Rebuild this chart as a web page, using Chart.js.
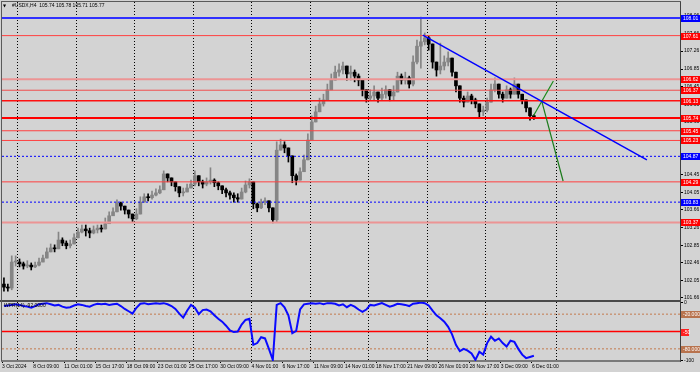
<!DOCTYPE html>
<html>
<head>
<meta charset="utf-8">
<script src="https://cdn.jsdelivr.net/npm/chart.js@4.4.1/dist/chart.umd.min.js"></script>
<style>
  html, body { margin: 0; padding: 0; background: #d3d3d3; }
  #wrap { position: relative; width: 700px; height: 372px; overflow: hidden; }
  canvas { position: absolute; left: 0; }
  #main { top: 0; }
  #ind { top: 300px; }
</style>
</head>
<body>
<div id="wrap">
  <canvas id="main" width="700" height="300" style="width:700px;height:300px"></canvas>
  <canvas id="ind" width="700" height="72" style="width:700px;height:72px"></canvas>
</div>
<script>
// USDX H4 — one entry per bar
const closes = [
  101.90, 101.88, 102.47, 102.47, 102.43, 102.38, 102.40, 102.36, 102.40, 102.47,
  102.56, 102.70, 102.79, 102.77, 102.97, 102.90, 102.84, 102.88, 103.02, 103.15,
  103.22, 103.18, 103.13, 103.20, 103.24, 103.22, 103.34, 103.52, 103.61, 103.81,
  103.74, 103.65, 103.56, 103.45, 103.56, 103.83, 103.95, 103.93, 103.99, 104.04,
  104.11, 104.47, 104.38, 104.29, 104.18, 104.04, 104.06, 104.15, 104.24, 104.43,
  104.29, 104.24, 104.29, 104.33, 104.27, 104.20, 104.11, 104.04, 103.99, 103.93,
  103.90, 104.06, 104.22, 104.29, 103.79, 103.70, 103.83, 103.86, 103.70, 103.43,
  105.01, 105.13, 105.06, 104.88, 104.43, 104.33, 104.52, 104.79, 105.24, 105.65,
  105.88, 106.06, 106.15, 106.38, 106.60, 106.78, 106.83, 106.92, 106.74, 106.78,
  106.69, 106.60, 106.38, 106.19, 106.24, 106.33, 106.19, 106.28, 106.38, 106.24,
  106.33, 106.69, 106.60, 106.65, 106.51, 107.01, 107.37, 107.47, 107.56, 107.42,
  107.01, 106.83, 106.92, 107.01, 107.10, 106.78, 106.47, 106.19, 106.10, 106.24,
  106.15, 106.06, 105.88, 105.92, 106.10, 106.38, 106.51, 106.28, 106.19, 106.38,
  106.28, 106.51, 106.28, 106.15, 105.97, 105.79, 105.77
];
const highs = [
  102.11, 101.97, 102.61, 102.61, 102.54, 102.47, 102.50, 102.45, 102.47, 102.56,
  102.63, 102.79, 102.88, 102.86, 103.15, 103.02, 102.95, 102.97, 103.11, 103.24,
  103.31, 103.31, 103.24, 103.29, 103.31, 103.31, 103.47, 103.61, 103.70, 103.88,
  103.83, 103.74, 103.65, 103.56, 103.68, 103.95, 104.02, 104.02, 104.08, 104.13,
  104.20, 104.54, 104.47, 104.38, 104.27, 104.15, 104.15, 104.24, 104.33, 104.54,
  104.43, 104.33, 104.38, 104.61, 104.36, 104.29, 104.20, 104.15, 104.08, 104.04,
  104.02, 104.15, 104.31, 104.36, 104.11, 103.81, 103.90, 103.93, 103.86, 103.65,
  105.20, 105.26, 105.20, 105.01, 104.83, 104.47, 104.61, 104.90, 105.38, 105.79,
  106.01, 106.19, 106.28, 106.51, 106.74, 106.92, 106.97, 107.01, 106.92, 106.92,
  106.83, 106.74, 106.56, 106.38, 106.38, 106.47, 106.33, 106.42, 106.47, 106.38,
  106.47, 106.78, 106.74, 106.78, 106.69, 107.15, 107.51, 108.03, 107.67, 107.60,
  107.33, 107.01, 107.44, 107.15, 107.24, 107.10, 106.78, 106.47, 106.24, 106.33,
  106.28, 106.19, 106.06, 106.01, 106.19, 106.51, 106.65, 106.51, 106.33, 106.47,
  106.42, 106.65, 106.51, 106.28, 106.15, 105.97, 105.81
];
const lows = [
  101.81, 101.81, 101.84, 102.38, 102.36, 102.31, 102.34, 102.29, 102.34, 102.38,
  102.47, 102.56, 102.70, 102.70, 102.79, 102.84, 102.77, 102.79, 102.88, 103.02,
  103.13, 103.06, 103.02, 103.11, 103.13, 103.15, 103.22, 103.38, 103.52, 103.65,
  103.65, 103.56, 103.47, 103.38, 103.43, 103.59, 103.86, 103.86, 103.90, 103.97,
  104.02, 104.24, 104.29, 104.20, 104.08, 103.95, 103.97, 104.06, 104.15, 104.20,
  104.20, 104.15, 104.20, 104.24, 104.18, 104.11, 104.02, 103.95, 103.90, 103.83,
  103.83, 103.93, 104.04, 104.15, 103.68, 103.61, 103.68, 103.77, 103.61, 103.36,
  103.38, 105.01, 104.95, 104.74, 104.27, 104.22, 104.38, 104.65, 104.79, 105.29,
  105.69, 105.88, 106.01, 106.15, 106.38, 106.60, 106.69, 106.74, 106.60, 106.60,
  106.56, 106.47, 106.24, 106.10, 106.15, 106.15, 106.10, 106.15, 106.19, 106.13,
  106.15, 106.38, 106.51, 106.51, 106.42, 106.47, 106.97, 106.87, 107.40, 107.28,
  106.87, 106.69, 106.74, 106.83, 106.92, 106.69, 106.33, 106.10, 105.99, 106.10,
  106.06, 105.97, 105.74, 105.79, 105.88, 106.10, 106.33, 106.19, 106.10, 106.19,
  106.19, 106.28, 106.19, 106.06, 105.88, 105.69, 105.71
];
const firstOpen = 101.97;

// Williams %R (14)
const wpr = [
  -6, -5, -4, -3, -4, -6, -7, -9, -6, -3,
  -2, -1, -3, -5, -4, -7, -9, -8, -5, -3,
  -4, -6, -7, -4, -2, -3, -2, -4, -3, -2,
  -6, -11, -15, -19, -9, -2, -1, -3, -2, -1,
  -2, -1, -3, -6, -11, -19, -26, -14, -4, -9,
  -20, -13, -12, -15, -22, -28, -33, -40, -48, -51,
  -50, -38, -30, -28, -73, -70, -60, -62, -80, -99,
  -4, -1, -8, -22, -53, -49, -12, -3, -2, -1,
  -2, -1, -3, -1, -1, -2, -5, -3, -8, -4,
  -7, -12, -16, -12, -4, -5, -3, -1, -4, -7,
  -5, -2, -3, -4, -6, -2, -1, 0, -1, -5,
  -14, -22, -27, -33, -42, -55, -73, -84, -80, -83,
  -88, -99, -85, -90, -70, -59, -66, -62, -70, -76,
  -66, -68, -80, -90, -96, -94, -92
];

const dateLabels = [
  "3 Oct 2024", "8 Oct 09:00", "11 Oct 01:00", "15 Oct 17:00", "18 Oct 09:00",
  "23 Oct 01:00", "25 Oct 17:00", "30 Oct 09:00", "4 Nov 01:00", "6 Nov 17:00",
  "11 Nov 09:00", "14 Nov 01:00", "18 Nov 17:00", "21 Nov 09:00", "26 Nov 01:00",
  "28 Nov 17:00", "3 Dec 09:00", "6 Dec 01:00"
];
const priceTicks = [
  101.66, 102.05, 102.46, 102.85, 103.26, 103.66, 104.05, 104.45, 104.85,
  105.25, 105.65, 106.05, 106.45, 106.85, 107.26, 107.66, 108.06
];

// horizontal levels drawn on the chart
const levelValues = [108.01, 107.61, 106.62, 106.37, 106.13, 105.74, 105.45, 105.23, 104.87, 104.29, 103.83, 103.37];
const levelStyles = [
  { color: "#3030ff", width: 2,   dash: [],     box: "#0000ff" },
  { color: "#ff4040", width: 1,   dash: [],     box: "#ff0000" },
  { color: "#ec9494", width: 2,   dash: [],     box: "#ff0000" },
  { color: "#f05050", width: 1,   dash: [],     box: "#ff0000" },
  { color: "#ff1010", width: 1.5, dash: [],     box: "#ff0000" },
  { color: "#ff0000", width: 2,   dash: [],     box: "#ff0000" },
  { color: "#ff4040", width: 1,   dash: [],     box: "#ff0000" },
  { color: "#ff4040", width: 1,   dash: [],     box: "#ff0000" },
  { color: "#0000ff", width: 1,   dash: [2, 2], box: "#0000ff" },
  { color: "#ff4040", width: 1,   dash: [],     box: "#ff0000" },
  { color: "#0000ff", width: 1,   dash: [2, 2], box: "#0000ff" },
  { color: "#ec9494", width: 2,   dash: [],     box: "#ff0000" }
];

// drawn objects, [bar, price]
const trendLine = [[107.5, 107.62], [165.0, 104.79]];
const greenUp = [[135.9, 105.79], [141.0, 106.58]];
const greenDown = [[138.0, 106.13], [143.5, 104.31]];

const wprLevels = [-20, -50, -80];
const wprLevelLabels = ["-20.0000", "-50", "-80.0000"];

// layout bits (bar units)
const SLOTS = 174;
const weekGrid = [3.45, 18.45, 33.45, 48.45, 63.45, 78.45, 93.45, 108.45, 123.45, 141.6];
const dateTicks = dateLabels.map((_, k) => 8 * k - 0.5);

const FONT = "'Liberation Sans', Arial, sans-serif";

const opens = closes.map((c, i) => (i ? closes[i - 1] : firstOpen));
const barColors = closes.map((c, i) => (c >= opens[i] ? "#858585" : "#000000"));
const wicks = closes.map((c, i) => ({
  x: i,
  y: [Math.min(lows[i], opens[i], c), Math.max(highs[i], opens[i], c)],
}));
const bodies = closes.map((c, i) => ({ x: i, y: [Math.min(opens[i], c), Math.max(opens[i], c)] }));

function seg(points) {
  return points.map((p) => ({ x: p[0], y: p[1] }));
}

function drawWeekGrid(chart) {
  const { ctx, chartArea: a, scales } = chart;
  ctx.save();
  ctx.strokeStyle = "#000";
  ctx.lineWidth = 1;
  ctx.setLineDash([1, 2]);
  weekGrid.forEach((v) => {
    const px = Math.round(scales.x.getPixelForValue(v)) + 0.5;
    ctx.beginPath();
    ctx.moveTo(px, a.top);
    ctx.lineTo(px, a.bottom);
    ctx.stroke();
  });
  ctx.restore();
}

function drawBox(ctx, x, py, w, fill, text) {
  ctx.fillStyle = fill;
  ctx.fillRect(x, Math.round(py) - 3, w, 7);
  ctx.fillStyle = "#fff";
  ctx.fillText(text, x + 2, Math.round(py) + 0.5);
}

const mainDecor = {
  id: "mainDecor",
  beforeDatasetsDraw(chart) {
    drawWeekGrid(chart);
  },
  afterDraw(chart) {
    const { ctx, chartArea: a, scales: { y } } = chart;
    ctx.save();
    // frame
    ctx.fillStyle = "#5a5a5a";
    ctx.fillRect(1, 1, a.right, 1);
    ctx.fillRect(1, 1, 1, 300);
    // level price boxes
    ctx.font = "5px " + FONT;
    ctx.textBaseline = "middle";
    ctx.textAlign = "left";
    levelValues.forEach((v, i) => {
      drawBox(ctx, a.right + 1, y.getPixelForValue(v), 19, levelStyles[i].box, v.toFixed(2));
    });
    // header
    ctx.fillStyle = "#000";
    ctx.font = "4px 'DejaVu Sans', sans-serif";
    ctx.fillText("\u25BC", 3, 5.5);
    ctx.font = "5px " + FONT;
    const last = closes.length - 1;
    ctx.fillText("#USDX,H4  105.74 105.78 105.71 " + closes[last].toFixed(2), 12, 5.5);
    ctx.restore();
  },
};

const indDecor = {
  id: "indDecor",
  beforeDatasetsDraw(chart) {
    drawWeekGrid(chart);
  },
  afterDraw(chart) {
    const { ctx, chartArea: a, scales: { y } } = chart;
    ctx.save();
    ctx.fillStyle = "#4a4a4a";
    ctx.fillRect(0, 0, a.right + 1, 2);
    ctx.fillStyle = "#5a5a5a";
    ctx.fillRect(1, 0, 1, a.bottom);
    ctx.font = "5px " + FONT;
    ctx.textBaseline = "middle";
    ctx.textAlign = "left";
    wprLevels.forEach((v, i) => {
      const fill = v === -50 ? "#ff2020" : "#b8734e";
      const w = v === -50 ? 8 : 19;
      drawBox(ctx, a.right + 1, y.getPixelForValue(v), w, fill, wprLevelLabels[i]);
    });
    ctx.fillStyle = "#000";
    ctx.fillText("WPR(14) " + wpr[wpr.length - 1].toFixed(4), 4, 6);
    ctx.restore();
  },
};

Chart.defaults.font.family = FONT;

const levelSets = levelValues.map((v, i) => ({
  type: "line",
  data: [{ x: -0.5, y: v }, { x: SLOTS - 0.5, y: v }],
  borderColor: levelStyles[i].color,
  borderWidth: levelStyles[i].width,
  borderDash: levelStyles[i].dash,
  pointRadius: 0,
  order: 2,
}));

function rightAxis(min, max, ticks, fmt) {
  return {
    position: "right",
    min: min,
    max: max,
    afterBuildTicks: (s) => { s.ticks = ticks.map((v) => ({ value: v })); },
    afterFit: (s) => { s.width = 20; s.paddingTop = 0; s.paddingBottom = 0; },
    ticks: { autoSkip: false, color: "#000", padding: 1, font: { family: FONT, size: 5 }, callback: fmt },
    grid: { drawOnChartArea: false, drawTicks: true, tickLength: 3, color: "#000" },
    border: { display: true, color: "#404040", width: 1 },
  };
}

new Chart(document.getElementById("main"), {
  type: "bar",
  data: {
    datasets: [
      { type: "line", data: seg(trendLine), borderColor: "#0000ff", borderWidth: 1.5, pointRadius: 0, order: 1 },
      { type: "line", data: seg(greenUp), borderColor: "#1a8a1a", borderWidth: 1.2, pointRadius: 0, order: 1 },
      { type: "line", data: seg(greenDown), borderColor: "#1a7a1a", borderWidth: 1.2, pointRadius: 0, order: 1 },
      ...levelSets,
      { type: "bar", data: bodies, backgroundColor: barColors, barThickness: 3, minBarLength: 1, grouped: false, order: 3 },
      { type: "bar", data: wicks, backgroundColor: barColors, barThickness: 1, grouped: false, order: 4 },
    ],
  },
  options: {
    responsive: false,
    animation: false,
    devicePixelRatio: 1,
    events: [],
    layout: { padding: { top: 2, left: 2, right: 0, bottom: 1 } },
    plugins: { legend: { display: false }, tooltip: { enabled: false } },
    scales: {
      x: { type: "linear", min: -0.5, max: SLOTS - 0.5, offset: false, display: false },
      y: rightAxis(101.631, 108.373, priceTicks, (v) => Number(v).toFixed(2)),
    },
  },
  plugins: [mainDecor],
});

new Chart(document.getElementById("ind"), {
  type: "line",
  data: {
    datasets: [
      {
        data: wpr.map((v, i) => ({ x: i, y: v })),
        borderColor: "#0a0aff",
        borderWidth: 2,
        pointRadius: 0,
        tension: 0,
        order: 1,
      },
      ...wprLevels.map((v) => ({
        data: [{ x: -0.5, y: v }, { x: SLOTS - 0.5, y: v }],
        borderColor: v === -50 ? "#ff0000" : "#c47a4e",
        borderWidth: v === -50 ? 1.5 : 1,
        borderDash: v === -50 ? [] : [2, 2],
        pointRadius: 0,
        order: 2,
      })),
    ],
  },
  options: {
    responsive: false,
    animation: false,
    devicePixelRatio: 1,
    events: [],
    layout: { padding: { top: 2, left: 2, right: 0, bottom: 0 } },
    plugins: { legend: { display: false }, tooltip: { enabled: false } },
    scales: {
      x: {
        type: "linear",
        position: "bottom",
        min: -0.5,
        max: SLOTS - 0.5,
        offset: false,
        afterBuildTicks: (s) => { s.ticks = dateTicks.map((v) => ({ value: v })); },
        afterFit: (s) => { s.height = 11; s.paddingLeft = 0; s.paddingRight = 0; },
        ticks: {
          autoSkip: false, maxRotation: 0, minRotation: 0, align: "start", padding: 1,
          color: "#000", font: { family: FONT, size: 5 },
          callback: (v, i) => dateLabels[i],
        },
        grid: { drawOnChartArea: false, drawTicks: true, tickLength: 2, color: "#000" },
        border: { display: true, color: "#7a7a7a", width: 2 },
      },
      y: rightAxis(-101, 1, [0, -100], (v) => String(v)),
    },
  },
  plugins: [indDecor],
});
</script>
</body>
</html>
